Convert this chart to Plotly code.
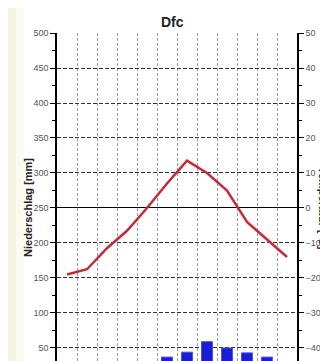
import plotly.graph_objects as go

# Klimadiagramm Dfc
months = ["Jan", "Feb", "Mär", "Apr", "Mai", "Jun", "Jul", "Aug", "Sep", "Okt", "Nov", "Dez"]
temperature = [-19, -17.5, -11.5, -6.5, 0, 7, 13.5, 10, 5, -4, -9, -14]  # °C
precipitation = [25, 20, 20, 22, 28, 37, 44, 59, 50, 43, 37, 28]  # mm
precip_ticks = [50, 100, 150, 200, 250, 300, 350, 400, 450, 500]
temp_ticks = [-40, -30, -20, -10, 0, 10, 20, 30, 40, 50]

# the page puts the figure 8px from the window corner, so the figure is
# 320x353 and its lower part (below ~30 mm) is left out like in the picture
W, H = 320, 353
ml, mr, mt, mb = 49, 31, 25, 0
PW, PH = W - ml - mr, H - mt - mb
p_low, p_high = 31.4, 500
t_low, t_high = p_low / 5 - 50, p_high / 5 - 50

tickfont = dict(family="Liberation Sans", size=9, color="#555555")

fig = go.Figure()

fig.add_trace(go.Bar(
    x=months, y=precipitation,
    marker=dict(color="#1c1cd6", line=dict(color="#4a55e8", width=1)),
    width=0.55, yaxis="y", showlegend=False
))

fig.add_trace(go.Scatter(
    x=months, y=temperature, mode="lines",
    line=dict(color="#c62a36", width=2.5),
    yaxis="y2", showlegend=False
))

fig.update_layout(
    width=W, height=H,
    margin=dict(l=ml, r=mr, t=mt, b=mb),
    paper_bgcolor="white", plot_bgcolor="white",
    xaxis=dict(
        type="category", tickson="boundaries", showticklabels=False,
        ticks="", showline=False, zeroline=False,
        showgrid=True, gridcolor="#999999", griddash="3px,2px", gridwidth=1,
    ),
    yaxis=dict(
        range=[p_low, p_high], tickvals=precip_ticks, tickfont=tickfont,
        ticks="outside", ticklen=5, tickcolor="black",
        showline=True, linecolor="black", linewidth=1.5,
        showgrid=True, gridcolor="#333333", griddash="4px,2px", gridwidth=1,
        zeroline=False,
        minor=dict(dtick=25, tick0=0, ticks="outside", ticklen=3, tickcolor="black", showgrid=False),
    ),
    yaxis2=dict(
        range=[t_low, t_high], tickvals=temp_ticks, tickfont=tickfont,
        overlaying="y", side="right",
        ticks="outside", ticklen=5, tickcolor="black",
        showline=True, linecolor="black", linewidth=1.5,
        showgrid=False, zeroline=True, zerolinecolor="black", zerolinewidth=1.2,
        minor=dict(dtick=5, tick0=0, ticks="outside", ticklen=3, tickcolor="black", showgrid=False),
    ),
)

# slightly yellowish paper at the left edge
fig.add_shape(type="rect", xref="paper", yref="paper",
              x0=-ml / PW, x1=-(ml - 8) / PW, y0=0, y1=1 + mt / PH,
              fillcolor="#f5f3e2", line_width=0, layer="below")
fig.add_shape(type="rect", xref="paper", yref="paper",
              x0=-(ml - 8) / PW, x1=-(ml - 16) / PW, y0=0, y1=1 + mt / PH,
              fillcolor="#fbfaf1", line_width=0, layer="below")

fig.add_annotation(text="<b>Dfc</b>", xref="paper", yref="paper",
                   x=(164 - ml) / PW, y=1 + (mt - 4) / PH,
                   showarrow=False, font=dict(family="Liberation Sans", size=14, color="#222222"))

fig.add_annotation(text="<b>Niederschlag [mm]</b>", xref="paper", yref="y",
                   x=(12 - ml) / PW, y=250, textangle=-90,
                   showarrow=False, font=dict(family="Liberation Sans", size=11, color="#222222"))

# right axis title lies partly beyond the right edge, as in the picture
fig.add_annotation(text="<b>Temperatur [°C]</b>", xref="paper", yref="y",
                   x=(323 - ml) / PW, y=250, textangle=90,
                   showarrow=False, font=dict(family="Liberation Sans", size=11, color="#222222"))

fig.write_html("out.html", config={"displayModeBar": False})
